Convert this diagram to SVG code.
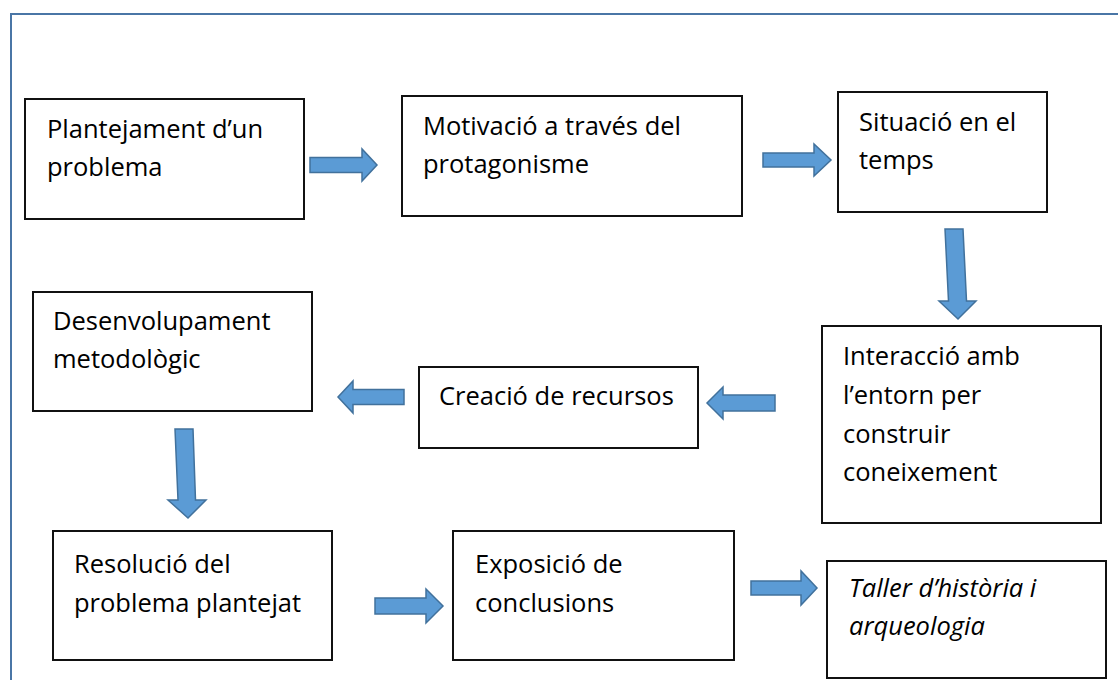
<svg xmlns="http://www.w3.org/2000/svg" width="1118" height="680" viewBox="0 0 1118 680">
<style>
.box{fill:#fff;stroke:#111;stroke-width:2}
.t{font-family:"Open Sans","Noto Sans",sans-serif;font-size:25.5px;fill:#000}
.it{font-style:italic}
.arr{fill:#5b9bd5;stroke:#41719c;stroke-width:1.5;stroke-linejoin:miter}
</style>
<rect x="0" y="0" width="1118" height="680" fill="#fff"/>
<rect x="11" y="14" width="1130" height="700" fill="none" stroke="#4a76a6" stroke-width="2"/>
<g id="n1"><rect class="box" x="25" y="99" width="279" height="120"/><text class="t" x="47" y="138">Plantejament d’un</text><text class="t" x="47" y="176">problema</text></g>
<g id="n2"><rect class="box" x="402" y="96" width="340" height="120"/><text class="t" x="423" y="135">Motivació a través del</text><text class="t" x="423" y="173">protagonisme</text></g>
<g id="n3"><rect class="box" x="838" y="92" width="209" height="120"/><text class="t" x="859" y="131">Situació en el</text><text class="t" x="859" y="169">temps</text></g>
<g id="n4"><rect class="box" x="822" y="326" width="279" height="197"/><text class="t" x="843" y="365">Interacció amb</text><text class="t" x="843" y="404">l’entorn per</text><text class="t" x="843" y="443">construir</text><text class="t" x="843" y="481">coneixement</text></g>
<g id="n5"><rect class="box" x="419" y="367" width="279" height="81"/><text class="t" x="439" y="405">Creació de recursos</text></g>
<g id="n6"><rect class="box" x="33" y="292" width="279" height="119"/><text class="t" x="53" y="330">Desenvolupament</text><text class="t" x="53" y="368">metodològic</text></g>
<g id="n7"><rect class="box" x="53" y="531" width="279" height="129"/><text class="t" x="74" y="573">Resolució del</text><text class="t" x="74" y="612">problema plantejat</text></g>
<g id="n8"><rect class="box" x="453" y="531" width="281" height="129"/><text class="t" x="475" y="573">Exposició de</text><text class="t" x="475" y="612">conclusions</text></g>
<g id="n9"><rect class="box" x="827" y="561" width="279" height="117"/><text class="t it" x="849" y="597">Taller d’història i</text><text class="t it" x="849" y="635">arqueologia</text></g>
<g id="connectors">
<polygon class="arr" points="310,157.5 362,157.5 362,149 377,165 362,181 362,172.5 310,172.5"/>
<polygon class="arr" points="763,153 814,153 814,144 831,160 814,176 814,167 763,167"/>
<polygon class="arr" points="945,229 963,229 966.5,301 976,301 958,319 939,301 948.5,301"/>
<polygon class="arr" points="775,395 723,395 723,387 707,403 723,419 723,411 775,411"/>
<polygon class="arr" points="404,389.5 353,389.5 353,381 338,397 353,413 353,404.5 404,404.5"/>
<polygon class="arr" points="175,429 193,429 195.5,500 206,500 188,518 168,500 178,500"/>
<polygon class="arr" points="375,598 426,598 426,589 443,606 426,623 426,614 375,614"/>
<polygon class="arr" points="751,581 801,581 801,571 817,588 801,605 801,595 751,595"/>
</g>
</svg>
